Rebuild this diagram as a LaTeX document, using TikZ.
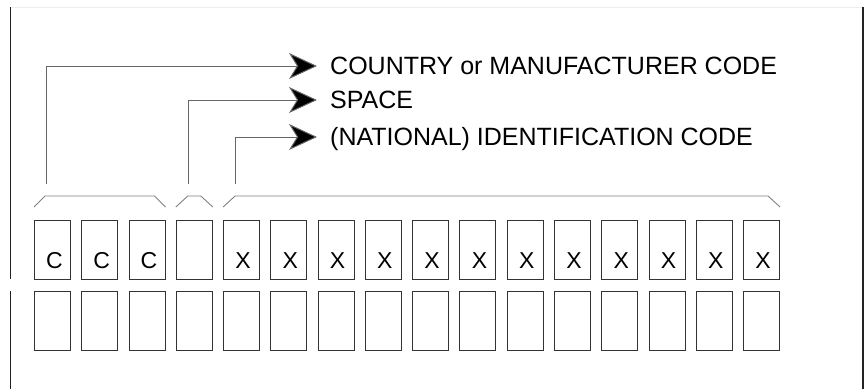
\documentclass[tikz,border=0pt]{standalone}
\usepackage{fontspec}
\setmainfont{Liberation Sans}
\usetikzlibrary{arrows.meta}
\definecolor{boxgray}{HTML}{333333}
\definecolor{leadgray}{HTML}{666666}
\definecolor{brgray}{HTML}{808080}
\definecolor{framegray}{HTML}{222222}
\definecolor{topgray}{HTML}{EEEEEE}
\begin{document}
\begin{tikzpicture}[x=1pt,y=-1pt,
  cell/.style={draw=boxgray,line width=1pt,minimum width=36pt,minimum height=59pt,inner sep=0pt,anchor=north west},
  letter/.style={font=\fontsize{23}{23}\selectfont,anchor=base,inner sep=0pt},
  lead/.style={draw=leadgray,line width=1pt,-{Stealth[length=28pt,width=26pt,inset=8pt,fill=black]}},
  bracket/.style={draw=brgray,line width=0.9pt},
  label/.style={font=\fontsize{25}{25}\selectfont,anchor=base west,inner sep=0pt},
  frame/.style={draw=framegray,line width=1.3pt}]
\useasboundingbox (0,0) rectangle (864,389);
% frame lines
\draw[draw=topgray,line width=0.8pt] (11,7.5) -- (863,7.5);
\draw[frame] (10.5,7) -- (10.5,279);
\draw[frame] (10.5,291) -- (10.5,389);
\draw[frame] (863,7) -- (863,389);
% cells
\foreach \i in {0,...,15} {
  \node[cell] (t\i) at ({34+47.27*\i},220) {};
  \node[cell] (b\i) at ({34+47.27*\i},291) {};
}
\foreach \i in {0,1,2} {\node[letter] (ct\i) at ([xshift=2pt,yshift=12pt]t\i.south) {C};}
\foreach \i in {4,...,15} {\node[letter] (xt\i) at ([xshift=1.5pt,yshift=12pt]t\i.south) {X};}
% brackets
\draw[bracket] ([yshift=13pt]t0.north west) -- ([xshift=11pt,yshift=24pt]t0.north west) -- ([xshift=-11pt,yshift=24pt]t2.north east) -- ([yshift=13pt]t2.north east);
\draw[bracket] ([yshift=13pt]t3.north west) -- ([xshift=12pt,yshift=24pt]t3.north west) -- ([xshift=-12pt,yshift=24pt]t3.north east) -- ([yshift=13pt]t3.north east);
\draw[bracket] ([yshift=13pt]t4.north west) -- ([xshift=12pt,yshift=24pt]t4.north west) -- ([xshift=-12pt,yshift=24pt]t15.north east) -- ([yshift=13pt]t15.north east);
% labels
\node[label] (l1) at (330,74.5) {COUNTRY or MANUFACTURER CODE};
\node[label] (l2) at (330,108.5) {SPACE};
\node[label] (l3) at (330,145) {(NATIONAL) IDENTIFICATION CODE};
% leader start points
\coordinate (s1) at (46,184);
\coordinate (s2) at (188,184);
\coordinate (s3) at (235,184);
\coordinate (e1) at (317,66);
\coordinate (e2) at (317,100);
\coordinate (e3) at (317,137);
\draw[lead] (s1) |- (e1);
\draw[lead] (s2) |- (e2);
\draw[lead] (s3) |- (e3);
\end{tikzpicture}
\end{document}
